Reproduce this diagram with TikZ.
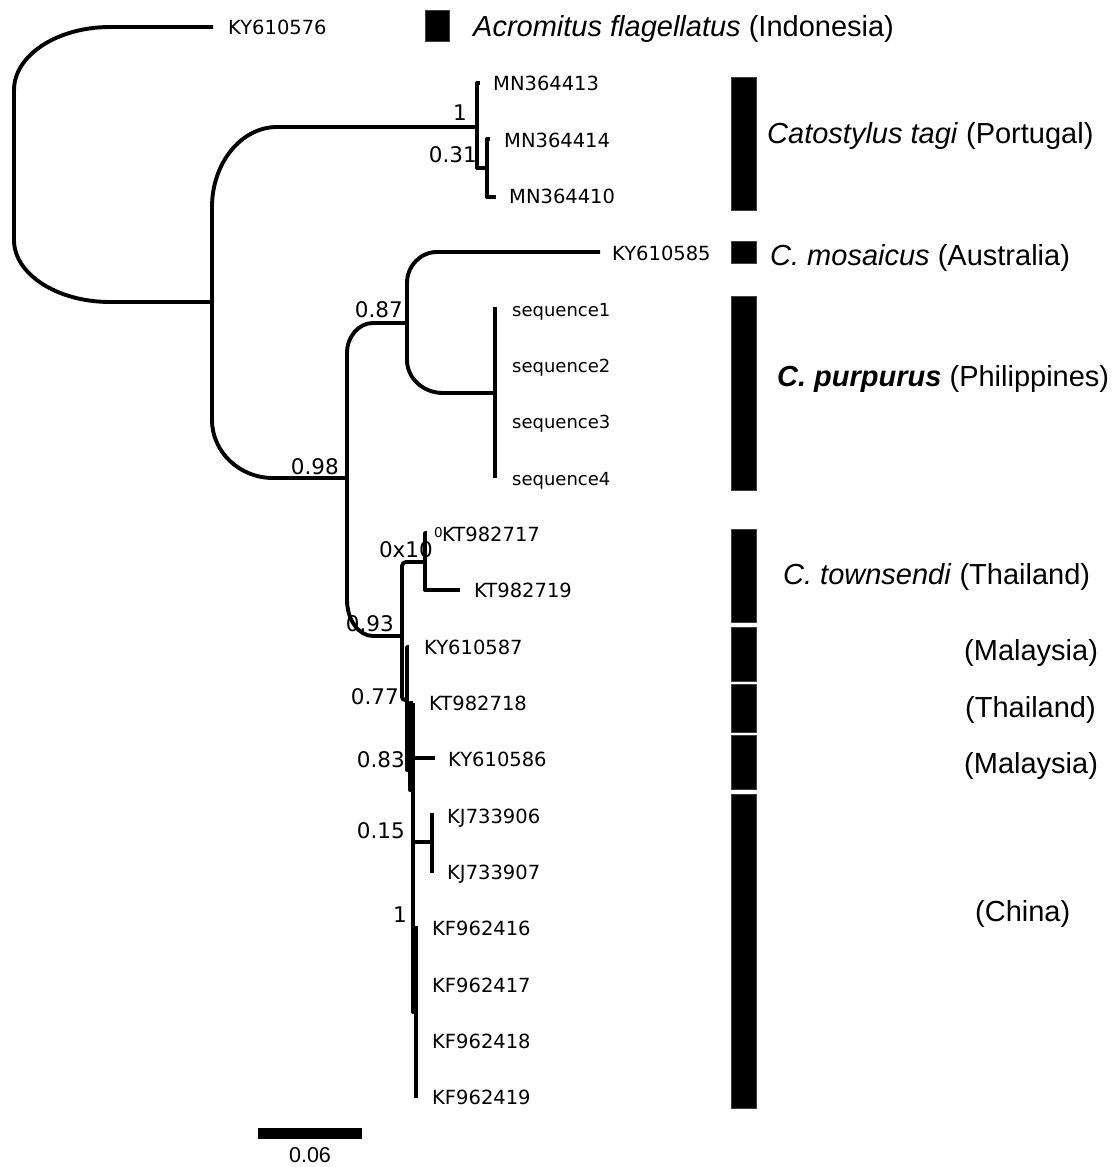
\documentclass[tikz,border=0pt]{standalone}
\usepackage{fontspec}
\setmainfont{Liberation Sans}
\newfontfamily\dvfont{DejaVu Sans}
\usetikzlibrary{calc}
\newcommand\brup[4]{\draw[br] (#1) -- ($(#1|-#2)+(0,#4)$) .. controls ($(#1|-#2)+(0,0.45*#4)$) and ($(#1|-#2)+(0.45*#3,0)$) .. ($(#1|-#2)+(#3,0)$) -- (#2);}
\newcommand\brdn[4]{\draw[br] (#1) -- ($(#1|-#2)+(0,-#4)$) .. controls ($(#1|-#2)+(0,-0.45*#4)$) and ($(#1|-#2)+(0.45*#3,0)$) .. ($(#1|-#2)+(#3,0)$) -- (#2);}
\tikzset{
  br/.style={line width=3.9pt, line join=round},
  leaf/.style={anchor=west, inner sep=0pt, font=\dvfont\fontsize{19.5}{20}\selectfont, text height=14pt, text depth=0pt},
  seqlab/.style={anchor=west, inner sep=0pt, font=\dvfont\fontsize{18}{19}\selectfont, text height=13pt, text depth=0pt},
  supp/.style={anchor=east, inner sep=0pt, font=\dvfont\fontsize{21.5}{22}\selectfont, text height=15.6pt, text depth=0pt},
  suppsm/.style={anchor=west, inner sep=0pt, font=\dvfont\fontsize{13.5}{14}\selectfont, text height=9.8pt, text depth=0pt},
  clade/.style={anchor=west, inner sep=0pt, font=\fontsize{29}{30}\selectfont, text height=20.8pt, text depth=0pt},
  cbar/.style={fill=black, draw=black!75, line width=0.6pt},
}
\begin{document}
\begin{tikzpicture}[x=1pt,y=-1pt]
\useasboundingbox (0,0) rectangle (1118,1167);
% ---------- coordinates ----------
\coordinate (R) at (14,164);
\coordinate (tKY76) at (213,27);
\coordinate (A) at (212,302);
\coordinate (MN) at (477,127);
\coordinate (tMN13) at (480,83);
\coordinate (MNb) at (487,168);
\coordinate (tMN14) at (490,139);
\coordinate (tMN10) at (496,197);
\coordinate (B) at (347,478);
\coordinate (C) at (407,323);
\coordinate (tKY85) at (600,252);
\coordinate (E) at (495,393);
\coordinate (tS1) at (495,307);
\coordinate (tS4) at (495,478);
\coordinate (D) at (402,636);
\coordinate (F) at (425,562);
\coordinate (tKT17) at (427,533);
\coordinate (tKT19) at (460,590);
\coordinate (G) at (407,700);
\coordinate (tKY87) at (409,647);
\coordinate (H) at (410,770);
\coordinate (tKT18) at (413,703);
\coordinate (J) at (413,790);
\coordinate (tKY86) at (435,758);
\coordinate (P) at (432,842);
\coordinate (tKJ06) at (432,813);
\coordinate (tKJ07) at (432,873);
\coordinate (K) at (416,1012);
\coordinate (tKF16) at (416,926);
\coordinate (tKF19) at (416,1098);
% ---------- support labels (under the tree) ----------
\node[supp] (s1a) at (467,113) {1};
\node[supp] (s031) at (477,155) {0.31};
\node[supp] (s087) at (403,310) {0.87};
\node[supp] (s098) at (339,467) {0.98};
\node[supp] (s0x10) at (433,550) {0x10};
\node[suppsm] (s0x10e) at (434,533) {0};
\node[supp] (s093) at (394,624) {0.93};
\node[supp] (s077) at (399,697) {0.77};
\node[supp] (s083) at (405,760) {0.83};
\node[supp] (s015) at (405,831) {0.15};
\node[supp] (s1b) at (407,915) {1};
% ---------- tree ----------
\brup{R}{tKY76}{96}{63}
\brdn{R}{A}{96}{62}
\brup{A}{MN}{65}{80}
\brdn{A}{B}{61}{58}
\brup{B}{C}{26}{30}
\brdn{B}{D}{26}{36}
\brup{C}{tKY85}{30}{31}
\brdn{C}{E}{36}{33}
\draw[br] (tS1) -- (tS4);
\draw[br] (MN) |- (tMN13);
\draw[br] (MN) |- (MNb);
\draw[br] (MNb) |- (tMN14);
\draw[br] (MNb) |- (tMN10);
\draw[br, rounded corners=4pt] (D) |- (F);
\draw[br, rounded corners=3pt] (D) |- (G);
\draw[br] (F) |- (tKT17);
\draw[br] (F) |- (tKT19);
\draw[br] (G) |- (tKY87);
\draw[br] (G) |- (H);
\draw[br] (H) |- (tKT18);
\draw[br] (H) |- (J);
\draw[br] (J) |- (tKT18);
\draw[br] (J) |- (tKY86);
\draw[br] (J) |- (P);
\draw[br] (J) |- (K);
\draw[br] (P) |- (tKJ06);
\draw[br] (P) |- (tKJ07);
\draw[br] (K) |- (tKF16);
\draw[br] (K) |- (tKF19);
% ---------- leaf labels ----------
\node[leaf] (lKY76) at (228,27) {KY610576};
\node[leaf] (lMN13) at (493,83) {MN364413};
\node[leaf] (lMN14) at (504,140) {MN364414};
\node[leaf] (lMN10) at (509,196) {MN364410};
\node[leaf] (lKY85) at (612,253) {KY610585};
\node[seqlab] (lS1) at (512,310) {sequence1};
\node[seqlab] (lS2) at (512,366) {sequence2};
\node[seqlab] (lS3) at (512,422) {sequence3};
\node[seqlab] (lS4) at (512,479) {sequence4};
\node[leaf] (lKT17) at (442,534) {KT982717};
\node[leaf] (lKT19) at (474,590) {KT982719};
\node[leaf] (lKY87) at (424,647) {KY610587};
\node[leaf] (lKT18) at (429,703) {KT982718};
\node[leaf] (lKY86) at (448,759) {KY610586};
\node[leaf] (lKJ06) at (447,816) {KJ733906};
\node[leaf] (lKJ07) at (447,872) {KJ733907};
\node[leaf] (lKF16) at (432,928) {KF962416};
\node[leaf] (lKF17) at (432,985) {KF962417};
\node[leaf] (lKF18) at (432,1041) {KF962418};
\node[leaf] (lKF19) at (432,1097) {KF962419};
% ---------- clade bars ----------
\fill[cbar] (425,10) rectangle (449,41);
\fill[cbar] (731,77) rectangle (756,210);
\fill[cbar] (731,241) rectangle (756,263);
\fill[cbar] (731,296) rectangle (756,490);
\fill[cbar] (731,529) rectangle (756,622);
\fill[cbar] (731,627) rectangle (756,681);
\fill[cbar] (731,684) rectangle (756,732);
\fill[cbar] (731,735) rectangle (756,789);
\fill[cbar] (731,794) rectangle (756,1108);
% ---------- clade labels ----------
\node[clade] (cAcro) at (473,26) {\textit{Acromitus flagellatus} (Indonesia)};
\node[clade] (cCat) at (767,133) {\textit{Catostylus tagi} (Portugal)};
\node[clade] (cMos) at (770,255) {\textit{C. mosaicus} (Australia)};
\node[clade] (cPur) at (777,376) {\textbf{\textit{C. purpurus}} (Philippines)};
\node[clade] (cTow) at (783,574) {\textit{C. townsendi} (Thailand)};
\node[clade] (cMal1) at (964,650) {(Malaysia)};
\node[clade] (cTha) at (965,707) {(Thailand)};
\node[clade] (cMal2) at (964,763) {(Malaysia)};
\node[clade] (cChi) at (975,911) {(China)};
% ---------- scale bar ----------
\node[fill=black, minimum width=104pt, minimum height=11pt, inner sep=0pt] (scalebar) at (310,1133.5) {};
\node[inner sep=0pt, font=\fontsize{21.5}{22}\selectfont, text height=15.4pt, text depth=0pt] (scalelab) at (310,1155) {0.06};
\end{tikzpicture}
\end{document}
